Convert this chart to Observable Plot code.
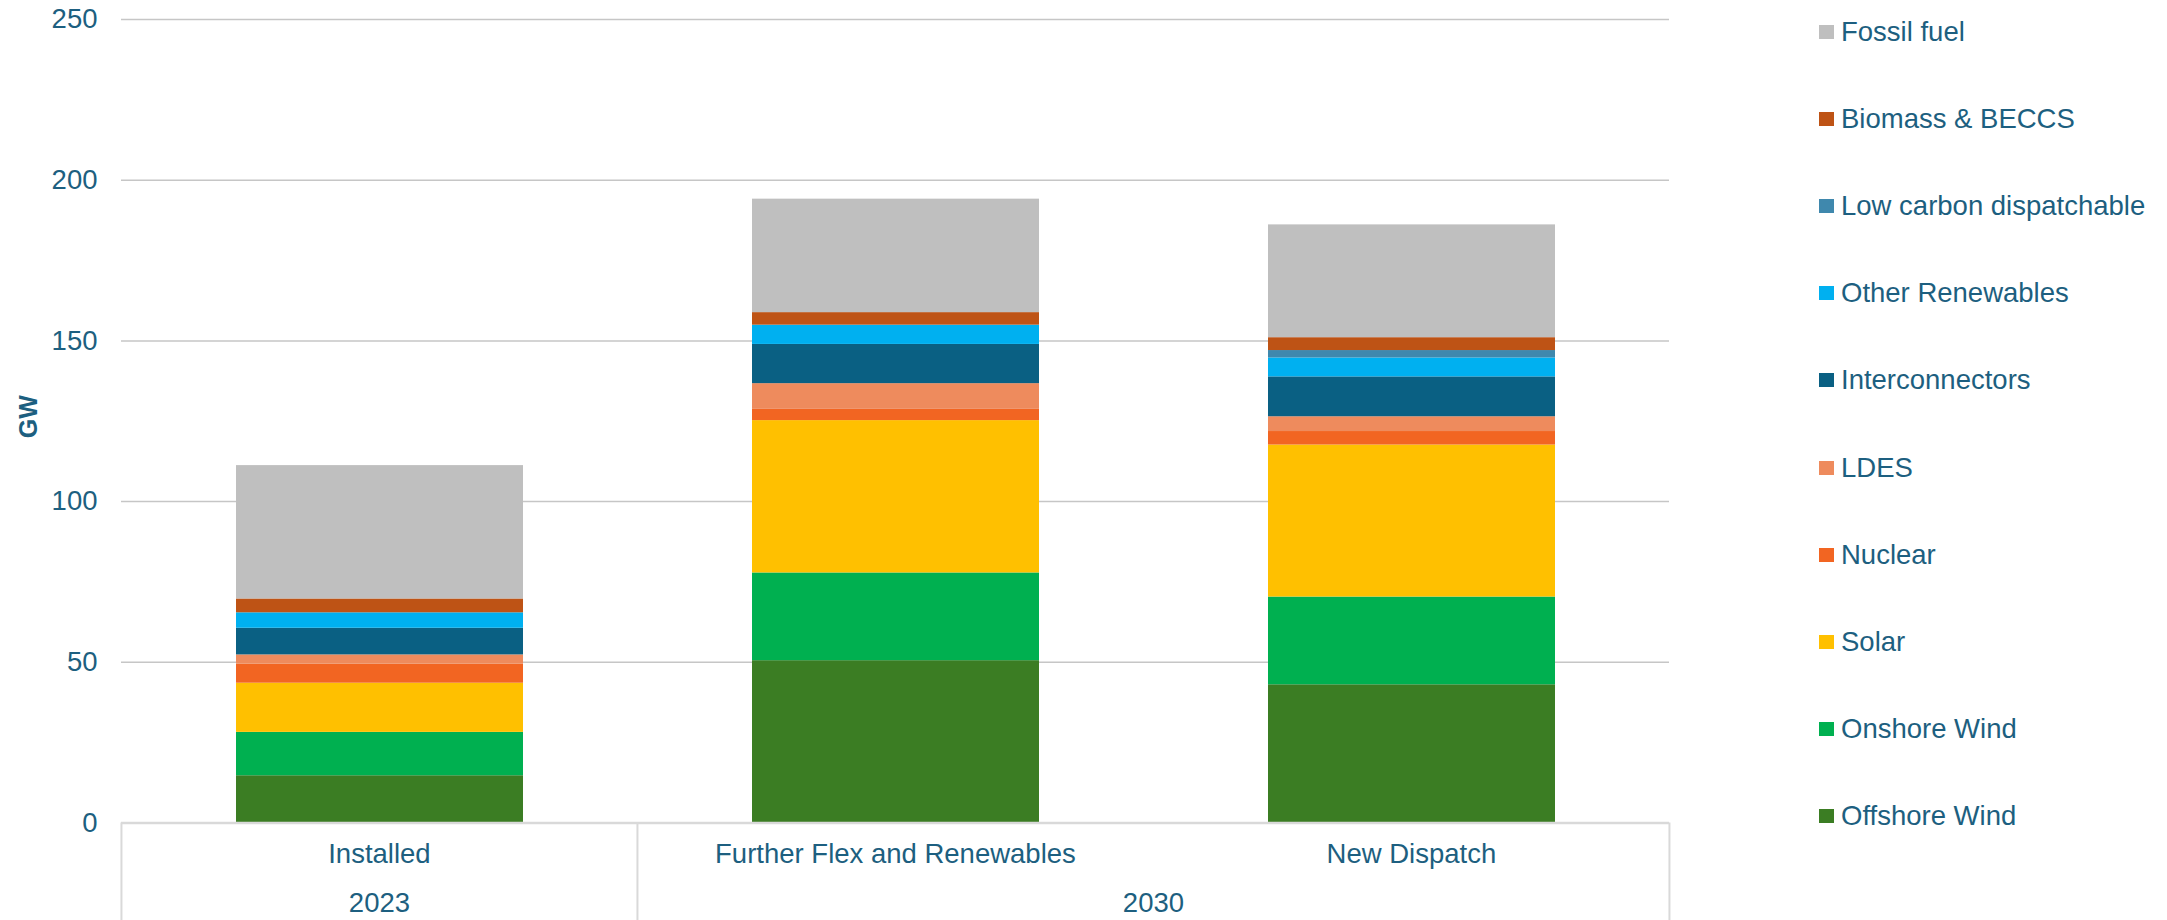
<!DOCTYPE html>
<html>
<head>
<meta charset="utf-8">
<script src="https://cdn.jsdelivr.net/npm/d3@7"></script>
<script src="https://cdn.jsdelivr.net/npm/@observablehq/plot@0.6"></script>
<style>
  html, body { margin: 0; padding: 0; background: #ffffff; }
  #chart { position: relative; width: 2167px; height: 920px; font-family: "Liberation Sans", Arial, sans-serif; }
  #legend { position: absolute; left: 1819px; top: 0; }
  .item { position: absolute; left: 0; display: flex; align-items: center; white-space: nowrap; height: 30px; margin-top: -15px; }
  .swatch { width: 15px; height: 14px; margin-right: 7px; }
  .label { font-size: 27.5px; color: #1d5f80; }
</style>
</head>
<body>
<div id="chart"><div id="legend"></div></div>
<script>
// Capacity mix (GW) by scenario
const scenarios = ["Installed", "Further Flex and Renewables", "New Dispatch"];
const years = ["2023", "2030", "2030"];

// Stack order, bottom to top
const technologies = [
  "Offshore Wind", "Onshore Wind", "Solar", "Nuclear", "LDES",
  "Interconnectors", "Other Renewables", "Low carbon dispatchable",
  "Biomass & BECCS", "Fossil fuel"
];
const colors = [
  "#3b7d23", "#00b050", "#ffc000", "#f26522", "#ee8b5d",
  "#0a6083", "#00b0f0", "#3f88ad", "#be5315", "#bfbfbf"
];

const offshoreWind    = [14.7, 50.5, 43.0];
const onshoreWind     = [13.5, 27.3, 27.3];
const solar           = [15.3, 47.4, 47.3];
const nuclear         = [5.9, 3.5, 4.2];
const ldes            = [2.9, 8.0, 4.6];
const interconnectors = [8.3, 12.2, 12.4];
const otherRenewables = [4.8, 6.0, 5.9];
const lowCarbon       = [0, 0, 2.3];
const biomass         = [4.3, 3.9, 4.0];
const fossilFuel      = [41.5, 35.3, 35.1];

const yTicks = [0, 50, 100, 150, 200, 250];

const series = [offshoreWind, onshoreWind, solar, nuclear, ldes,
  interconnectors, otherRenewables, lowCarbon, biomass, fossilFuel];

const rows = [];
technologies.forEach((tech, t) => {
  scenarios.forEach((sc, i) => rows.push({scenario: sc, tech, value: series[t][i]}));
});

const textColor = "#1d5f80";
const padInner = 0.444;

// Two-level category axis: scenario names, then year groups with dividers
function categoryAxis(index, scales, values, dimensions) {
  const x = scales.x, y = scales.y;
  const step = x(scenarios[1]) - x(scenarios[0]);
  const bw = step * (1 - padInner);
  const centers = scenarios.map(s => x(s) + bw / 2);
  const y0 = y(0);
  const g = d3.create("svg:g")
    .attr("font-family", "Liberation Sans, Arial, sans-serif")
    .attr("fill", textColor);
  // dividers between year groups
  const edges = [centers[0] - step / 2];
  for (let i = 1; i < scenarios.length; i++) {
    if (years[i] !== years[i - 1]) edges.push((centers[i - 1] + centers[i]) / 2);
  }
  edges.push(centers[centers.length - 1] + step / 2);
  edges.forEach(ex => g.append("line")
    .attr("x1", ex).attr("x2", ex).attr("y1", y0).attr("y2", dimensions.height)
    .attr("stroke", "#d9d9d9").attr("stroke-width", 2));
  // scenario labels
  scenarios.forEach((s, i) => g.append("text")
    .attr("x", centers[i]).attr("y", y0 + 31)
    .attr("text-anchor", "middle").attr("dominant-baseline", "central")
    .attr("font-size", 27.5).text(s));
  // year labels, centred over their group
  const groups = d3.groups(scenarios.map((s, i) => ({c: centers[i], yr: years[i]})), d => d.yr);
  groups.forEach(([yr, items]) => g.append("text")
    .attr("x", d3.mean(items, d => d.c)).attr("y", y0 + 80)
    .attr("text-anchor", "middle").attr("dominant-baseline", "central")
    .attr("font-size", 27.5).text(yr));
  // axis title
  g.append("text")
    .attr("transform", `translate(28,${y(125) - 4}) rotate(-90)`)
    .attr("text-anchor", "middle").attr("dominant-baseline", "central")
    .attr("font-size", 25).attr("font-weight", "bold").text("GW");
  return g.node();
}

const chart = Plot.plot({
  width: 2167,
  height: 920,
  marginLeft: 121,
  marginRight: 498,
  marginTop: 19,
  marginBottom: 97.5,
  style: {fontFamily: "Liberation Sans, Arial, sans-serif", color: textColor, background: "#ffffff"},
  x: {domain: scenarios, paddingInner: padInner, paddingOuter: padInner / 2, axis: null},
  y: {domain: [0, 250], axis: null},
  color: {domain: technologies, range: colors},
  marks: [
    Plot.gridY(yTicks.filter(d => d > 0), {stroke: "#c6c6c6", strokeOpacity: 1, strokeWidth: 1.5}),
    Plot.axisY(yTicks, {tickSize: 0, tickPadding: 24, fontSize: 27.5, label: null}),
    Plot.barY(rows, Plot.stackY({
      x: "scenario", y: "value", z: "tech", fill: "tech",
      order: technologies
    })),
    Plot.ruleY([0], {stroke: "#d9d9d9", strokeWidth: 2.5}),
    categoryAxis
  ]
});

document.getElementById("chart").prepend(chart);

// Legend, top to bottom in reverse stack order
const legend = d3.select("#legend");
technologies.slice().reverse().forEach((tech, i) => {
  const item = legend.append("div").attr("class", "item").style("top", `${32 + i * 87.1}px`);
  item.append("div").attr("class", "swatch").style("background", colors[technologies.indexOf(tech)]);
  item.append("div").attr("class", "label").text(tech);
});
</script>
</body>
</html>
